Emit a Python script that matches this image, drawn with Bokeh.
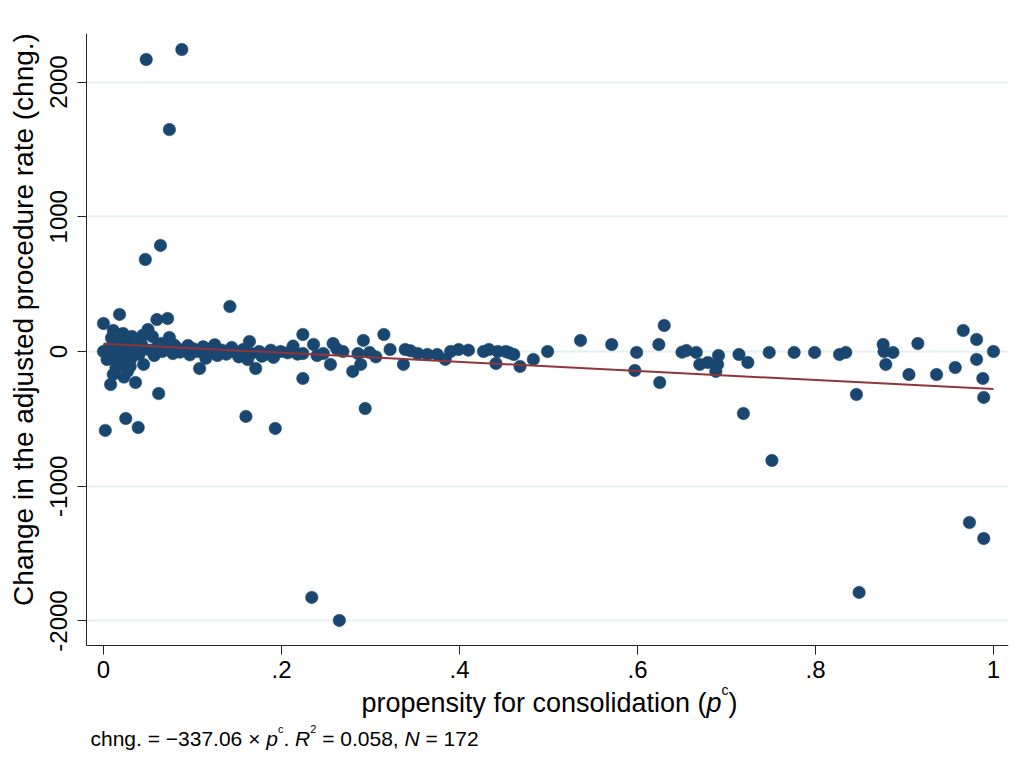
import math
from bokeh.plotting import figure
from bokeh.models import Range1d, FixedTicker, Label, ColumnDataSource
from bokeh.embed import file_html
from bokeh.resources import INLINE

# ---------------- data ----------------
x_vals = [0.048, 0.088, 0.074, 0.064, 0.047, 0.142, 0.018, 0.060, 0.072, 0.630,
          0.966, 0.315, 0.224, 0.981, 0.536, 0.571, 0.915, 0.292, 0.164, 0.000,
          0.011, 0.022, 0.032, 0.050, 0.055, 0.074, 0.002, 0.025, 0.039, 0.160,
          0.193, 0.294, 0.234, 0.265, 0.719, 0.751, 0.846, 0.849, 0.973, 0.989,
          0.989, 0.988, 0.597, 0.625, 0.905, 0.936, 0.957, 0.981, 1.000, 0.599,
          0.624, 0.655, 0.666, 0.670, 0.679, 0.691, 0.690, 0.688, 0.714, 0.724,
          0.748, 0.776, 0.799, 0.827, 0.834, 0.876, 0.877, 0.887, 0.879, 0.199,
          0.191, 0.224, 0.224, 0.236, 0.247, 0.255, 0.258, 0.269, 0.280, 0.286,
          0.289, 0.299, 0.322, 0.337, 0.339, 0.353, 0.364, 0.375, 0.384, 0.390,
          0.399, 0.427, 0.433, 0.443, 0.452, 0.461, 0.441, 0.468, 0.483, 0.499,
          0.008, 0.045, 0.062, 0.108, 0.171, 0.000, 0.008, 0.016, 0.027, 0.011,
          0.005, 0.013, 0.020, 0.024, 0.028, 0.031, 0.035, 0.040, 0.043, 0.052,
          0.057, 0.061, 0.066, 0.070, 0.078, 0.082, 0.086, 0.092, 0.097, 0.101,
          0.106, 0.112, 0.118, 0.122, 0.128, 0.133, 0.138, 0.147, 0.152, 0.157,
          0.166, 0.175, 0.183, 0.188, 0.207, 0.213, 0.218, 0.004, 0.014, 0.019,
          0.023, 0.030, 0.017, 0.009, 0.036, 0.044, 0.065, 0.079, 0.095, 0.115,
          0.125, 0.144, 0.162, 0.178, 0.240, 0.262, 0.306, 0.345, 0.410, 0.456,
          0.650, 0.036]
y_vals = [2167, 2241, 1647, 787, 683, 334, 275, 237, 245, 193,
          156, 126, 126, 89, 82, 52, 59, 82, 74, 208,
          156, 134, 111, 163, 111, 104, -586, -497, -564, -482,
          -571, -423, -1825, -1996, -460, -809, -319, -1788, -1269, -1388,
          -341, -200, -141, -230, -171, -171, -119, -59, 0, -7,
          52, 7, -7, -96, -82, -30, -96, -148, -22, -82,
          -7, -7, -7, -22, -7, 52, 0, -7, -96, 0,
          -44, -15, -200, 52, -15, -96, 59, 0, -148, -15,
          -96, -7, 15, -96, 15, -15, -22, -22, -59, 0,
          15, 0, 15, 0, 0, -22, -89, -111, -59, 0,
          -245, -96, -312, -126, -126, 0, -37, -96, -148, -170,
          20, 40, -10, 60, 20, -50, 30, -20, 50, 10,
          -30, 40, 0, 20, -15, 30, -5, 15, -25, 20,
          0, 35, -10, 25, -30, 10, -20, 0, -40, 15,
          -15, 0, -20, 10, -10, 40, -20, -60, -120, -70,
          -190, -110, 80, 100, 80, 120, 60, 50, 45, -50,
          50, 30, -60, -35, -30, 20, -40, 5, 10, -10,
          -5, -230]

fit_intercept = 58.0
fit_slope = -337.06
fit_x = [0.0, 1.0]

x_ticks = [0, 0.2, 0.4, 0.6, 0.8, 1.0]
x_tick_labels = ["0", ".2", ".4", ".6", ".8", "1"]
y_ticks = [-2000, -1000, 0, 1000, 2000]
y_tick_labels = ["-2000", "-1000", "0", "1000", "2000"]

# ---------------- layout ----------------
W, H = 1032, 767
FT, FR = 33, 1008              # frame top / right in px (frame spans from x=0)
AXL, AXB = 86, 645             # px column of the y axis, px row of the x axis
XPP = (1.0 - 0.0) / (993 - 103)            # data per px along x
X0 = 0.0 - (103 - 0) * XPP                 # x at canvas left
X1 = 0.0 + (FR - 103) * XPP
X_AX = 0.0 - (103 - AXL) * XPP             # x at the y-axis line
Y1, Y_AX = 2360.0, -2182.0                 # y at frame top, y at x-axis line
YPP = (Y1 - Y_AX) / (AXB - FT)
Y0 = Y1 - (H - FT) * YPP                   # frame runs to the canvas bottom

def px2x(px):
    return X0 + px * XPP

def py2y(py):
    return Y1 - (py - FT) * YPP

NAVY = "#1a476f"
MAROON = "#90353b"
FONT = "Liberation Sans"

p = figure(width=W, height=H, output_backend="svg", toolbar_location=None,
           x_range=Range1d(X0, X1), y_range=Range1d(Y0, Y1),
           min_border_left=0, min_border_right=W - FR,
           min_border_top=FT, min_border_bottom=0)
p.background_fill_color = "white"
p.border_fill_color = "white"
p.outline_line_color = None

p.xgrid.visible = False
p.ygrid.grid_line_color = "#e6eff1"
p.ygrid.grid_line_width = 2
p.ygrid.ticker = FixedTicker(ticks=y_ticks)
p.ygrid.cross_bounds = (X_AX, X1)

for ax in (p.xaxis[0], p.yaxis[0]):
    ax.axis_line_color = "#222222"
    ax.axis_line_width = 1
    ax.major_tick_line_color = "#222222"
    ax.major_tick_in = 0
    ax.major_tick_out = 9
    ax.minor_tick_line_color = None
    ax.major_label_text_font = FONT
    ax.major_label_text_font_size = "24px"
    ax.major_label_text_color = "black"

p.xaxis.fixed_location = Y_AX
p.xaxis.bounds = (X_AX, X1)
p.xaxis.ticker = FixedTicker(ticks=x_ticks)
p.xaxis.major_label_overrides = dict(zip(x_ticks, x_tick_labels))
p.xaxis.major_label_standoff = 6
p.yaxis.fixed_location = X_AX
p.yaxis.bounds = (Y_AX, Y1)
p.yaxis.ticker = FixedTicker(ticks=y_ticks)
p.yaxis.major_label_overrides = dict(zip(y_ticks, y_tick_labels))
p.yaxis.major_label_orientation = "vertical"
p.yaxis.major_label_standoff = 10

src = ColumnDataSource(dict(x=x_vals, y=y_vals))
p.scatter("x", "y", source=src, size=12.5, fill_color=NAVY, line_color=NAVY,
          line_width=0.5)

fit_y = [fit_intercept + fit_slope * v for v in fit_x]
p.line(fit_x, fit_y, line_color=MAROON, line_width=2)

# ---------------- titles and note ----------------
p.add_layout(Label(x=px2x(23), y=py2y(319),
                   text="Change in the adjusted procedure rate (chng.)",
                   angle=math.pi / 2, text_font=FONT, text_font_size="28px",
                   text_color="black", text_align="center",
                   text_baseline="alphabetic"))

AW = {' ': 278, '.': 278, ',': 278, '=': 584, '\u2212': 584, '\u00d7': 584,
      '(': 333, ')': 333, 'R': 722, 'N': 722, 'c': 500, 'f': 278, 'i': 222,
      'l': 222, 't': 278, 'y': 500, 's': 500, 'r': 333, 'j': 222}

def tw(s, size):
    return sum(AW.get(ch, 556) for ch in s) * size / 1000.0

def compose(parts, start_px, base_py):
    xpx = start_px
    for text, size, style, rise in parts:
        lead = len(text) - len(text.lstrip(" "))
        core = text.strip(" ")
        xpx += tw(" " * lead, size)
        p.add_layout(Label(x=px2x(xpx), y=py2y(base_py - rise), text=core,
                           text_font=FONT, text_font_size=f"{size}px",
                           text_font_style=style, text_color="black",
                           text_baseline="alphabetic", text_align="left"))
        xpx += tw(text[lead:], size)

title_parts = [("propensity for consolidation (", 27, "normal", 0),
               ("p", 27, "italic", 0),
               ("c", 14, "normal", 13),
               (")", 27, "normal", 0)]
title_w = sum(tw(t, s) for t, s, _, _ in title_parts)
compose(title_parts, (AXL + FR) / 2 - title_w / 2 + 2, 702)

NS = 21
note_parts = [("chng. = \u2212337.06 \u00d7 ", NS, "normal", 0),
              ("p", NS, "italic", 0),
              ("c", 11, "normal", 10),
              (". ", NS, "normal", 0),
              ("R", NS, "italic", 0),
              ("2", 11, "normal", 10),
              (" = 0.058, ", NS, "normal", 0),
              ("N", NS, "italic", 0),
              (" = 172", NS, "normal", 0)]
compose(note_parts, 90, 738)

open("out.html", "w").write(file_html(p, INLINE))
